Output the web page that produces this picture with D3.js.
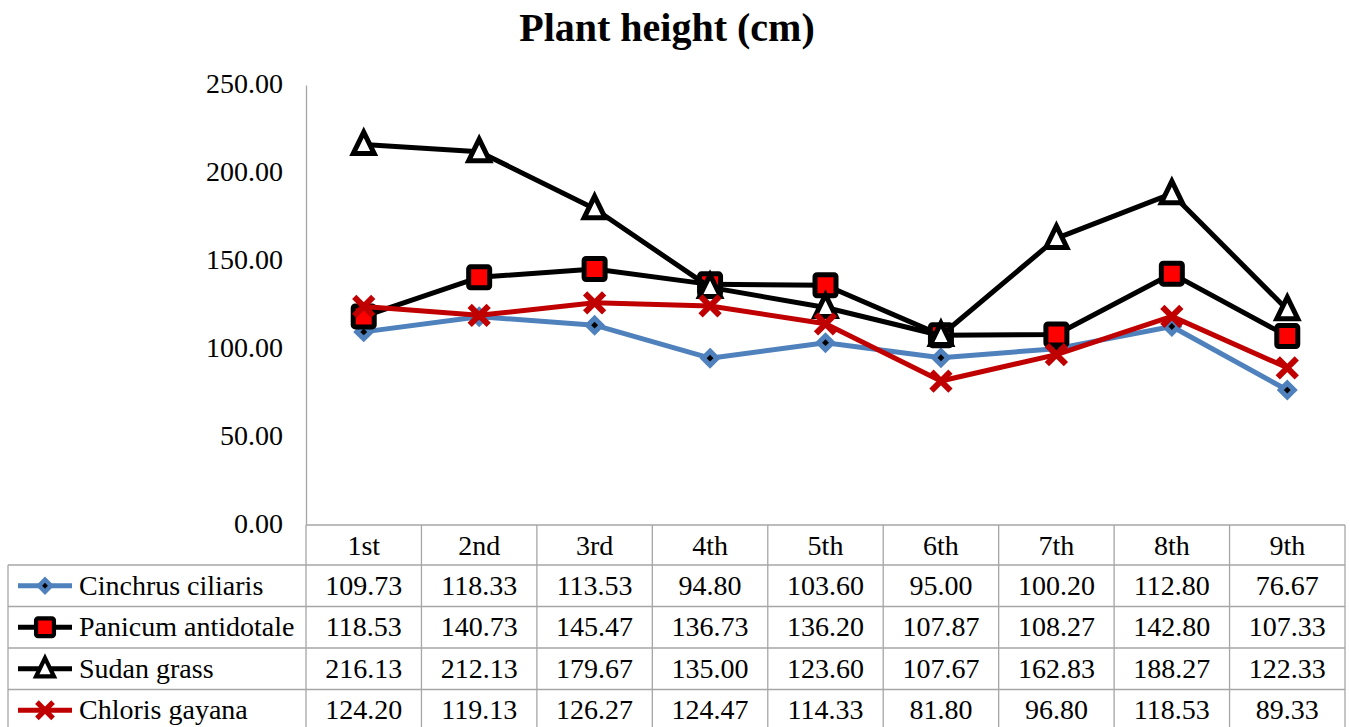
<!DOCTYPE html>
<html>
<head>
<meta charset="utf-8">
<script src="https://cdn.jsdelivr.net/npm/d3@7"></script>
<style>
  html, body { margin: 0; padding: 0; background: #fff; }
  svg { display: block; }
  text { font-family: "Liberation Serif", "Times New Roman", serif; fill: #000; }
</style>
</head>
<body>
<svg id="chart" width="1350" height="727"></svg>
<script>
// Harvest cuts
const categories = ["1st", "2nd", "3rd", "4th", "5th", "6th", "7th", "8th", "9th"];

// Plant height (cm) per grass per cut
const cinchrus = [109.73, 118.33, 113.53, 94.80, 103.60, 95.00, 100.20, 112.80, 76.67];
const panicum  = [118.53, 140.73, 145.47, 136.73, 136.20, 107.87, 108.27, 142.80, 107.33];
const sudan    = [216.13, 212.13, 179.67, 135.00, 123.60, 107.67, 162.83, 188.27, 122.33];
const chloris  = [124.20, 119.13, 126.27, 124.47, 114.33, 81.80, 96.80, 118.53, 89.33];

const seriesNames = ["Cinchrus ciliaris", "Panicum antidotale", "Sudan grass", "Chloris gayana"];
const yTicks = [0, 50, 100, 150, 200, 250];

const series = [
  { name: seriesNames[0], values: cinchrus, color: "#4F81BD", marker: "diamond" },
  { name: seriesNames[1], values: panicum,  color: "#000000", marker: "square" },
  { name: seriesNames[2], values: sudan,    color: "#000000", marker: "triangle" },
  { name: seriesNames[3], values: chloris,  color: "#C00000", marker: "cross" }
];

const FONT = "'Liberation Serif', 'Times New Roman', serif";
const svg = d3.select("#chart");
const plotL = 306, plotR = 1345, plotT = 85, plotB = 525;
const gridColor = "#a6a6a6";

const x = d3.scaleBand().domain(categories).range([plotL, plotR]);
const y = d3.scaleLinear().domain([0, 250]).range([plotB, plotT]);

// Title
svg.append("text")
  .attr("x", 667).attr("y", 41)
  .attr("text-anchor", "middle")
  .style("font-family", FONT)
  .style("font-size", "40px").style("font-weight", "bold")
  .text("Plant height (cm)");

// Y axis
const yAxis = d3.axisLeft(y).tickValues(yTicks).tickSize(0).tickPadding(23)
  .tickFormat(d3.format(".2f"));
const gy = svg.append("g").attr("transform", `translate(${plotL},0)`).call(yAxis);
gy.select(".domain").attr("stroke", gridColor).attr("stroke-width", 1.3);
gy.selectAll("text")
  .style("font-family", FONT)
  .style("font-size", "28px").attr("fill", "#000").attr("dy", "0.28em");

// Marker drawing
function drawMarker(g, type, cx, cy, color, s) {
  s = s || 1;
  if (type === "diamond") {
    g.append("path")
      .attr("d", d3.symbol(d3.symbolDiamond2, 210 * s * s)())
      .attr("transform", `translate(${cx},${cy})`)
      .attr("fill", color).attr("stroke", color).attr("stroke-width", 2);
    g.append("path")
      .attr("d", d3.symbol(d3.symbolDiamond2, 30 * s * s)())
      .attr("transform", `translate(${cx},${cy})`)
      .attr("fill", "#000");
  } else if (type === "square") {
    const h = 10.5 * s;
    g.append("rect")
      .attr("x", cx - h).attr("y", cy - h).attr("width", 2 * h).attr("height", 2 * h)
      .attr("rx", 2)
      .attr("fill", "#ff0000").attr("stroke", "#000").attr("stroke-width", 5 * s);
  } else if (type === "triangle") {
    const w = 10.5 * s, hUp = 12.5 * s, hDn = 9 * s;
    g.append("path")
      .attr("d", `M${cx},${cy - hUp}L${cx + w},${cy + hDn}L${cx - w},${cy + hDn}Z`)
      .attr("fill", "#fff").attr("stroke", "#000").attr("stroke-width", 5 * s)
      .attr("stroke-linejoin", "miter");
  } else if (type === "cross") {
    const h = 9.5 * s;
    g.append("path")
      .attr("d", `M${cx - h},${cy - h}L${cx + h},${cy + h}M${cx - h},${cy + h}L${cx + h},${cy - h}`)
      .attr("stroke", "#C00000").attr("stroke-width", 6 * s).attr("fill", "none");
  }
}

// Series lines and markers
const line = d3.line()
  .x((d, i) => x(categories[i]) + x.bandwidth() / 2)
  .y(d => y(d));

series.forEach(s => {
  const g = svg.append("g");
  g.append("path")
    .datum(s.values)
    .attr("d", line)
    .attr("fill", "none")
    .attr("stroke", s.color)
    .attr("stroke-width", 5)
    .attr("stroke-linejoin", "round");
  s.values.forEach((v, i) => {
    drawMarker(g, s.marker, x(categories[i]) + x.bandwidth() / 2, y(v), s.color);
  });
});

// Data table
const tableLeft = 8;
const rowH = 41.5;
const headTop = plotB, headBot = 565;
const tbl = svg.append("g").style("font-family", FONT).style("font-size", "28px");

// header cells
categories.forEach(c => {
  tbl.append("text")
    .attr("x", x(c) + x.bandwidth() / 2).attr("y", headBot - 10)
    .attr("text-anchor", "middle")
    .text(c);
});

series.forEach((s, r) => {
  const rTop = headBot + r * rowH;
  const cy = rTop + rowH / 2;
  // legend key
  const lg = tbl.append("g");
  lg.append("line")
    .attr("x1", 18).attr("x2", 72).attr("y1", cy).attr("y2", cy)
    .attr("stroke", s.color).attr("stroke-width", 5);
  drawMarker(lg, s.marker, 45, cy, s.color, 0.85);
  tbl.append("text")
    .attr("x", 79).attr("y", cy + 9)
    .text(s.name);
  s.values.forEach((v, i) => {
    tbl.append("text")
      .attr("x", x(categories[i]) + x.bandwidth() / 2).attr("y", cy + 9)
      .attr("text-anchor", "middle")
      .text(d3.format(".2f")(v));
  });
});

// table grid lines
const tableBottom = headBot + series.length * rowH;
const grid = svg.append("g").attr("stroke", gridColor).attr("stroke-width", 1.3);
grid.append("line").attr("x1", plotL).attr("x2", plotR).attr("y1", headTop).attr("y2", headTop);
for (let r = 0; r <= series.length; r++) {
  const yy = headBot + r * rowH;
  grid.append("line").attr("x1", tableLeft).attr("x2", plotR).attr("y1", yy).attr("y2", yy);
}
grid.append("line").attr("x1", tableLeft).attr("x2", tableLeft).attr("y1", headBot).attr("y2", tableBottom);
categories.forEach(c => {
  grid.append("line").attr("x1", x(c)).attr("x2", x(c)).attr("y1", headTop).attr("y2", tableBottom);
});
grid.append("line").attr("x1", plotR).attr("x2", plotR).attr("y1", headTop).attr("y2", tableBottom);
</script>
</body>
</html>
